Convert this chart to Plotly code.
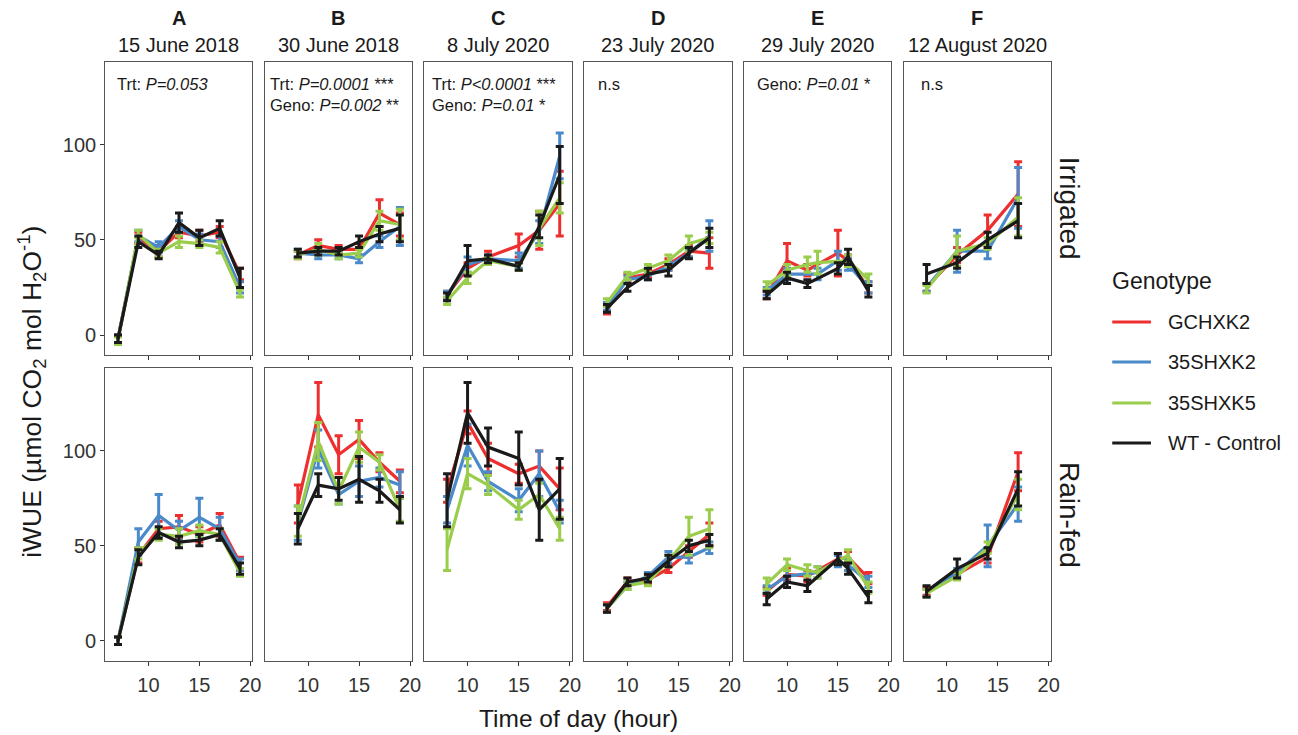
import plotly.graph_objects as go

W, H = 1298, 735

genotypes = ["GCHXK2", "35SHXK2", "35SHXK5", "WT - Control"]
colors = {"GCHXK2": "#EE2F30", "35SHXK2": "#4A89CA", "35SHXK5": "#9ACD4C", "WT - Control": "#1A1A1A"}

panel_letters = ["A", "B", "C", "D", "E", "F"]
panel_dates = ["15 June 2018", "30 June 2018", "8 July 2020", "23 July 2020", "29 July 2020", "12 August 2020"]
conditions = ["Irrigated", "Rain-fed"]
stats_text = [
    ["Trt: <i>P=0.053</i>"],
    ["Trt: <i>P=0.0001</i> ***", "Geno: <i>P=0.002</i> **"],
    ["Trt: <i>P<0.0001</i> ***", "Geno: <i>P=0.01</i> *"],
    ["n.s"],
    ["Geno: <i>P=0.01</i> *"],
    ["n.s"],
]

# ---- time points (hour) ----
t_A = [7, 9, 11, 13, 15, 17, 19]
t_B = [9, 11, 13, 15, 17, 19]
t_C = [8, 10, 12, 15, 17, 19]
t_D = [8, 10, 12, 14, 16, 18]
t_E_red = [8, 10, 12, 15, 16, 18]
t_E_blue = [8, 10, 13, 15, 16, 18]
t_E_green = [8, 10, 12, 13, 16, 18]
t_E_black = [8, 10, 12, 15, 16, 18]
t_F = [8, 11, 14, 17]

# ---- means (iWUE) and standard errors ----
A_irr = {"GCHXK2": [-2, 51, 44, 54, 52, 54, 32], "35SHXK2": [-2, 52, 46, 57, 50, 49, 25],
         "35SHXK5": [-3, 53, 43, 49, 48, 46, 22], "WT - Control": [-2, 49, 42, 59, 51, 56, 30]}
A_irr_se = {"GCHXK2": [2, 3, 3, 3, 3, 3, 3], "35SHXK2": [2, 3, 3, 3, 3, 3, 3],
            "35SHXK5": [2, 2, 2, 3, 2, 3, 2], "WT - Control": [2, 3, 2, 5, 4, 4, 5]}
A_rain = {"GCHXK2": [0, 45, 59, 60, 56, 61, 41], "35SHXK2": [0, 52, 66, 58, 65, 59, 40],
          "35SHXK5": [0, 46, 56, 55, 58, 56, 36], "WT - Control": [0, 44, 57, 52, 53, 56, 38]}
A_rain_se = {"GCHXK2": [2, 4, 4, 6, 4, 6, 3], "35SHXK2": [2, 7, 11, 5, 10, 6, 3],
             "35SHXK5": [2, 3, 3, 4, 3, 3, 2], "WT - Control": [2, 4, 3, 3, 3, 3, 3]}

B_irr = {"GCHXK2": [42, 47, 45, 45, 64, 58], "35SHXK2": [43, 42, 42, 40, 49, 57],
         "35SHXK5": [42, 45, 42, 43, 60, 58], "WT - Control": [43, 44, 44, 49, 53, 56]}
B_irr_se = {"GCHXK2": [2, 3, 2, 3, 7, 6], "35SHXK2": [2, 2, 2, 2, 3, 10],
            "35SHXK5": [2, 3, 2, 2, 5, 8], "WT - Control": [2, 2, 2, 3, 4, 7]}
B_rain = {"GCHXK2": [72, 119, 98, 106, 94, 84], "35SHXK2": [62, 101, 77, 84, 86, 82],
          "35SHXK5": [63, 105, 79, 102, 94, 69], "WT - Control": [59, 82, 80, 85, 79, 69]}
B_rain_se = {"GCHXK2": [10, 17, 10, 10, 5, 6], "35SHXK2": [9, 10, 5, 8, 5, 7],
             "35SHXK5": [8, 10, 7, 8, 4, 6], "WT - Control": [8, 6, 6, 12, 6, 7]}

C_irr = {"GCHXK2": [21, 35, 41, 47, 55, 69], "35SHXK2": [21, 37, 40, 39, 54, 94],
         "35SHXK5": [18, 30, 39, 36, 56, 72], "WT - Control": [20, 39, 40, 36, 57, 84]}
C_irr_se = {"GCHXK2": [2, 3, 3, 6, 10, 17], "35SHXK2": [2, 4, 2, 4, 6, 12],
            "35SHXK5": [2, 3, 2, 2, 9, 8], "WT - Control": [2, 8, 2, 2, 6, 15]}
C_rain = {"GCHXK2": [79, 115, 96, 88, 92, 80], "35SHXK2": [69, 103, 84, 74, 88, 68],
          "35SHXK5": [48, 88, 82, 69, 77, 59], "WT - Control": [74, 120, 102, 96, 69, 80]}
C_rain_se = {"GCHXK2": [6, 6, 8, 5, 8, 11], "35SHXK2": [7, 11, 5, 6, 12, 6],
             "35SHXK5": [11, 8, 5, 5, 6, 6], "WT - Control": [14, 16, 10, 14, 16, 16]}

D_irr = {"GCHXK2": [13, 30, 32, 37, 44, 43], "35SHXK2": [15, 29, 31, 36, 43, 52],
         "35SHXK5": [17, 31, 35, 39, 48, 51], "WT - Control": [14, 25, 32, 34, 43, 51]}
D_irr_se = {"GCHXK2": [2, 2, 2, 3, 3, 8], "35SHXK2": [2, 2, 2, 2, 2, 8],
            "35SHXK5": [2, 2, 2, 3, 4, 3], "WT - Control": [2, 2, 3, 3, 3, 5]}
D_rain = {"GCHXK2": [18, 31, 32, 38, 47, 56], "35SHXK2": [17, 29, 34, 44, 44, 49],
          "35SHXK5": [17, 29, 31, 42, 55, 59], "WT - Control": [17, 31, 33, 42, 50, 53]}
D_rain_se = {"GCHXK2": [2, 2, 2, 2, 3, 6], "35SHXK2": [2, 2, 2, 3, 3, 3],
             "35SHXK5": [2, 2, 2, 3, 10, 10], "WT - Control": [2, 2, 2, 3, 3, 3]}

E_irr = {"GCHXK2": [21, 39, 34, 43, 39, 25], "35SHXK2": [23, 32, 32, 39, 37, 25],
         "35SHXK5": [26, 34, 37, 38, 39, 29], "WT - Control": [21, 30, 27, 35, 41, 23]}
E_irr_se = {"GCHXK2": [2, 9, 3, 12, 3, 3], "35SHXK2": [2, 3, 3, 5, 3, 3],
            "35SHXK5": [2, 3, 4, 6, 3, 3], "WT - Control": [2, 3, 2, 3, 4, 3]}
E_rain = {"GCHXK2": [26, 35, 34, 43, 44, 33], "35SHXK2": [27, 34, 36, 42, 40, 31],
          "35SHXK5": [30, 40, 37, 36, 45, 28], "WT - Control": [22, 31, 29, 43, 38, 23]}
E_rain_se = {"GCHXK2": [2, 3, 3, 3, 3, 3], "35SHXK2": [2, 3, 3, 3, 3, 3],
             "35SHXK5": [3, 3, 3, 3, 3, 3], "WT - Control": [3, 3, 3, 3, 3, 3]}

F_irr = {"GCHXK2": [25, 42, 55, 74], "35SHXK2": [25, 44, 44, 72],
         "35SHXK5": [24, 44, 48, 62], "WT - Control": [32, 38, 50, 60]}
F_irr_se = {"GCHXK2": [2, 4, 8, 17], "35SHXK2": [2, 11, 4, 16],
            "35SHXK5": [2, 8, 3, 10], "WT - Control": [5, 3, 4, 9]}
F_rain = {"GCHXK2": [26, 35, 44, 89], "35SHXK2": [25, 36, 50, 72],
          "35SHXK5": [25, 34, 49, 77], "WT - Control": [26, 38, 46, 80]}
F_rain_se = {"GCHXK2": [2, 2, 3, 10], "35SHXK2": [2, 2, 11, 9],
             "35SHXK5": [2, 2, 3, 8], "WT - Control": [3, 5, 3, 9]}

x_ticks = [10, 15, 20]
y_ticks = [0, 50, 100]

times_E = {"GCHXK2": t_E_red, "35SHXK2": t_E_blue, "35SHXK5": t_E_green, "WT - Control": t_E_black}
panels = [
    ({g: t_A for g in genotypes}, A_irr, A_irr_se, A_rain, A_rain_se),
    ({g: t_B for g in genotypes}, B_irr, B_irr_se, B_rain, B_rain_se),
    ({g: t_C for g in genotypes}, C_irr, C_irr_se, C_rain, C_rain_se),
    ({g: t_D for g in genotypes}, D_irr, D_irr_se, D_rain, D_rain_se),
    (times_E, E_irr, E_irr_se, E_rain, E_rain_se),
    ({g: t_F for g in genotypes}, F_irr, F_irr_se, F_rain, F_rain_se),
]

# ---- layout geometry (window pixels) ----
col_px = [(106, 254), (266.5, 415), (427, 576), (588, 737), (749, 897), (910, 1058)]
row_px = [(61.7, 355), (368.3, 660.7)]


def px_x(p):
    return p / W


def px_y(p):
    return 1 - p / H


FONT = "Liberation Sans, Arial, sans-serif"
fig = go.Figure()
layout = dict(
    width=W, height=H, margin=dict(l=0, r=0, t=0, b=0),
    paper_bgcolor="white", plot_bgcolor="white", showlegend=False,
    font=dict(family=FONT, size=20, color="#222222"),
)
annotations = []
shapes = []

for c in range(6):
    times, irr, irr_se, rain, rain_se = panels[c]
    for r in range(2):
        n = r * 6 + c + 1
        xa = "x" if n == 1 else f"x{n}"
        ya = "y" if n == 1 else f"y{n}"
        vals = irr if r == 0 else rain
        ses = irr_se if r == 0 else rain_se
        for g in genotypes:
            fig.add_trace(go.Scatter(
                x=times[g], y=vals[g], mode="lines", xaxis=xa, yaxis=ya,
                line=dict(color=colors[g], width=3.2), name=g,
                error_y=dict(type="data", array=ses[g], visible=True,
                             color=colors[g], thickness=3, width=4),
            ))
        x0, x1 = col_px[c]
        y0, y1 = row_px[r]
        layout["xaxis" if n == 1 else f"xaxis{n}"] = dict(
            domain=[px_x(x0), px_x(x1)], anchor=ya, range=[5.75, 20.2],
            tickvals=x_ticks, showticklabels=(r == 1), ticks="outside", ticklen=4,
            tickcolor="#333333", tickwidth=1, showgrid=False, zeroline=False,
            showline=True, mirror=True, linecolor="#555555", linewidth=1.2,
            tickfont=dict(size=20, color="#333333"), ticklabelstandoff=2,
        )
        layout["yaxis" if n == 1 else f"yaxis{n}"] = dict(
            domain=[px_y(y1), px_y(y0)], anchor=xa, range=[-10.5, 143.5],
            tickvals=y_ticks, showticklabels=(c == 0), ticks="outside" if c == 0 else "",
            ticklen=4, tickcolor="#333333", tickwidth=1, showgrid=False, zeroline=False,
            showline=True, mirror=True, linecolor="#555555", linewidth=1.2,
            tickfont=dict(size=20, color="#333333"),
        )

# column headers and stats text
stat_x = [116, 270, 433, 600, 760, 925]
for c in range(6):
    x0, x1 = col_px[c]
    cx = (x0 + x1) / 2
    annotations.append(dict(x=px_x(cx), y=px_y(18), xref="paper", yref="paper",
                            text=f"<b>{panel_letters[c]}</b>", showarrow=False,
                            font=dict(size=20, color="#1a1a1a"), xanchor="center", yanchor="middle"))
    annotations.append(dict(x=px_x(cx), y=px_y(45), xref="paper", yref="paper",
                            text=panel_dates[c], showarrow=False,
                            font=dict(size=20, color="#1a1a1a"), xanchor="center", yanchor="middle"))
    for i, line in enumerate(stats_text[c]):
        annotations.append(dict(x=px_x(stat_x[c]), y=px_y(84 + 21 * i), xref="paper", yref="paper",
                                text=line, showarrow=False, font=dict(size=16.5, color="#1a1a1a"),
                                xanchor="left", yanchor="middle"))

# row strip labels
for r in range(2):
    y0, y1 = row_px[r]
    annotations.append(dict(x=px_x(1077), y=px_y((y0 + y1) / 2), xref="paper", yref="paper",
                            text=conditions[r], textangle=90, showarrow=False,
                            font=dict(size=28, color="#1a1a1a"), xanchor="center", yanchor="middle"))

# axis titles
annotations.append(dict(x=px_x(583), y=px_y(718), xref="paper", yref="paper",
                        text="Time of day (hour)", showarrow=False,
                        font=dict(size=24.5, color="#1a1a1a"), xanchor="center", yanchor="middle"))
annotations.append(dict(x=px_x(32), y=px_y(392), xref="paper", yref="paper",
                        text="iWUE (µmol CO<sub>2</sub> mol H<sub>2</sub>O<sup>-1</sup>)", textangle=-90,
                        showarrow=False, font=dict(size=26.5, color="#1a1a1a"),
                        xanchor="center", yanchor="middle"))

# legend (drawn manually)
annotations.append(dict(x=px_x(1118), y=px_y(281), xref="paper", yref="paper", text="Genotype",
                        showarrow=False, font=dict(size=23, color="#1a1a1a"),
                        xanchor="left", yanchor="middle"))
leg_y = [322, 362, 403, 443]
for g, yy in zip(genotypes, leg_y):
    shapes.append(dict(type="line", xref="paper", yref="paper", x0=px_x(1120), x1=px_x(1159),
                       y0=px_y(yy), y1=px_y(yy), line=dict(color=colors[g], width=3.2)))
    annotations.append(dict(x=px_x(1174), y=px_y(yy), xref="paper", yref="paper", text=g,
                            showarrow=False, font=dict(size=20, color="#1a1a1a"),
                            xanchor="left", yanchor="middle"))

layout["annotations"] = annotations
layout["shapes"] = shapes
fig.update_layout(**layout)
fig.write_html(
    "out.html",
    config={"displayModeBar": False},
    post_script="document.body.style.margin='0';document.body.style.padding='0';"
                "document.documentElement.style.overflow='hidden';",
)
